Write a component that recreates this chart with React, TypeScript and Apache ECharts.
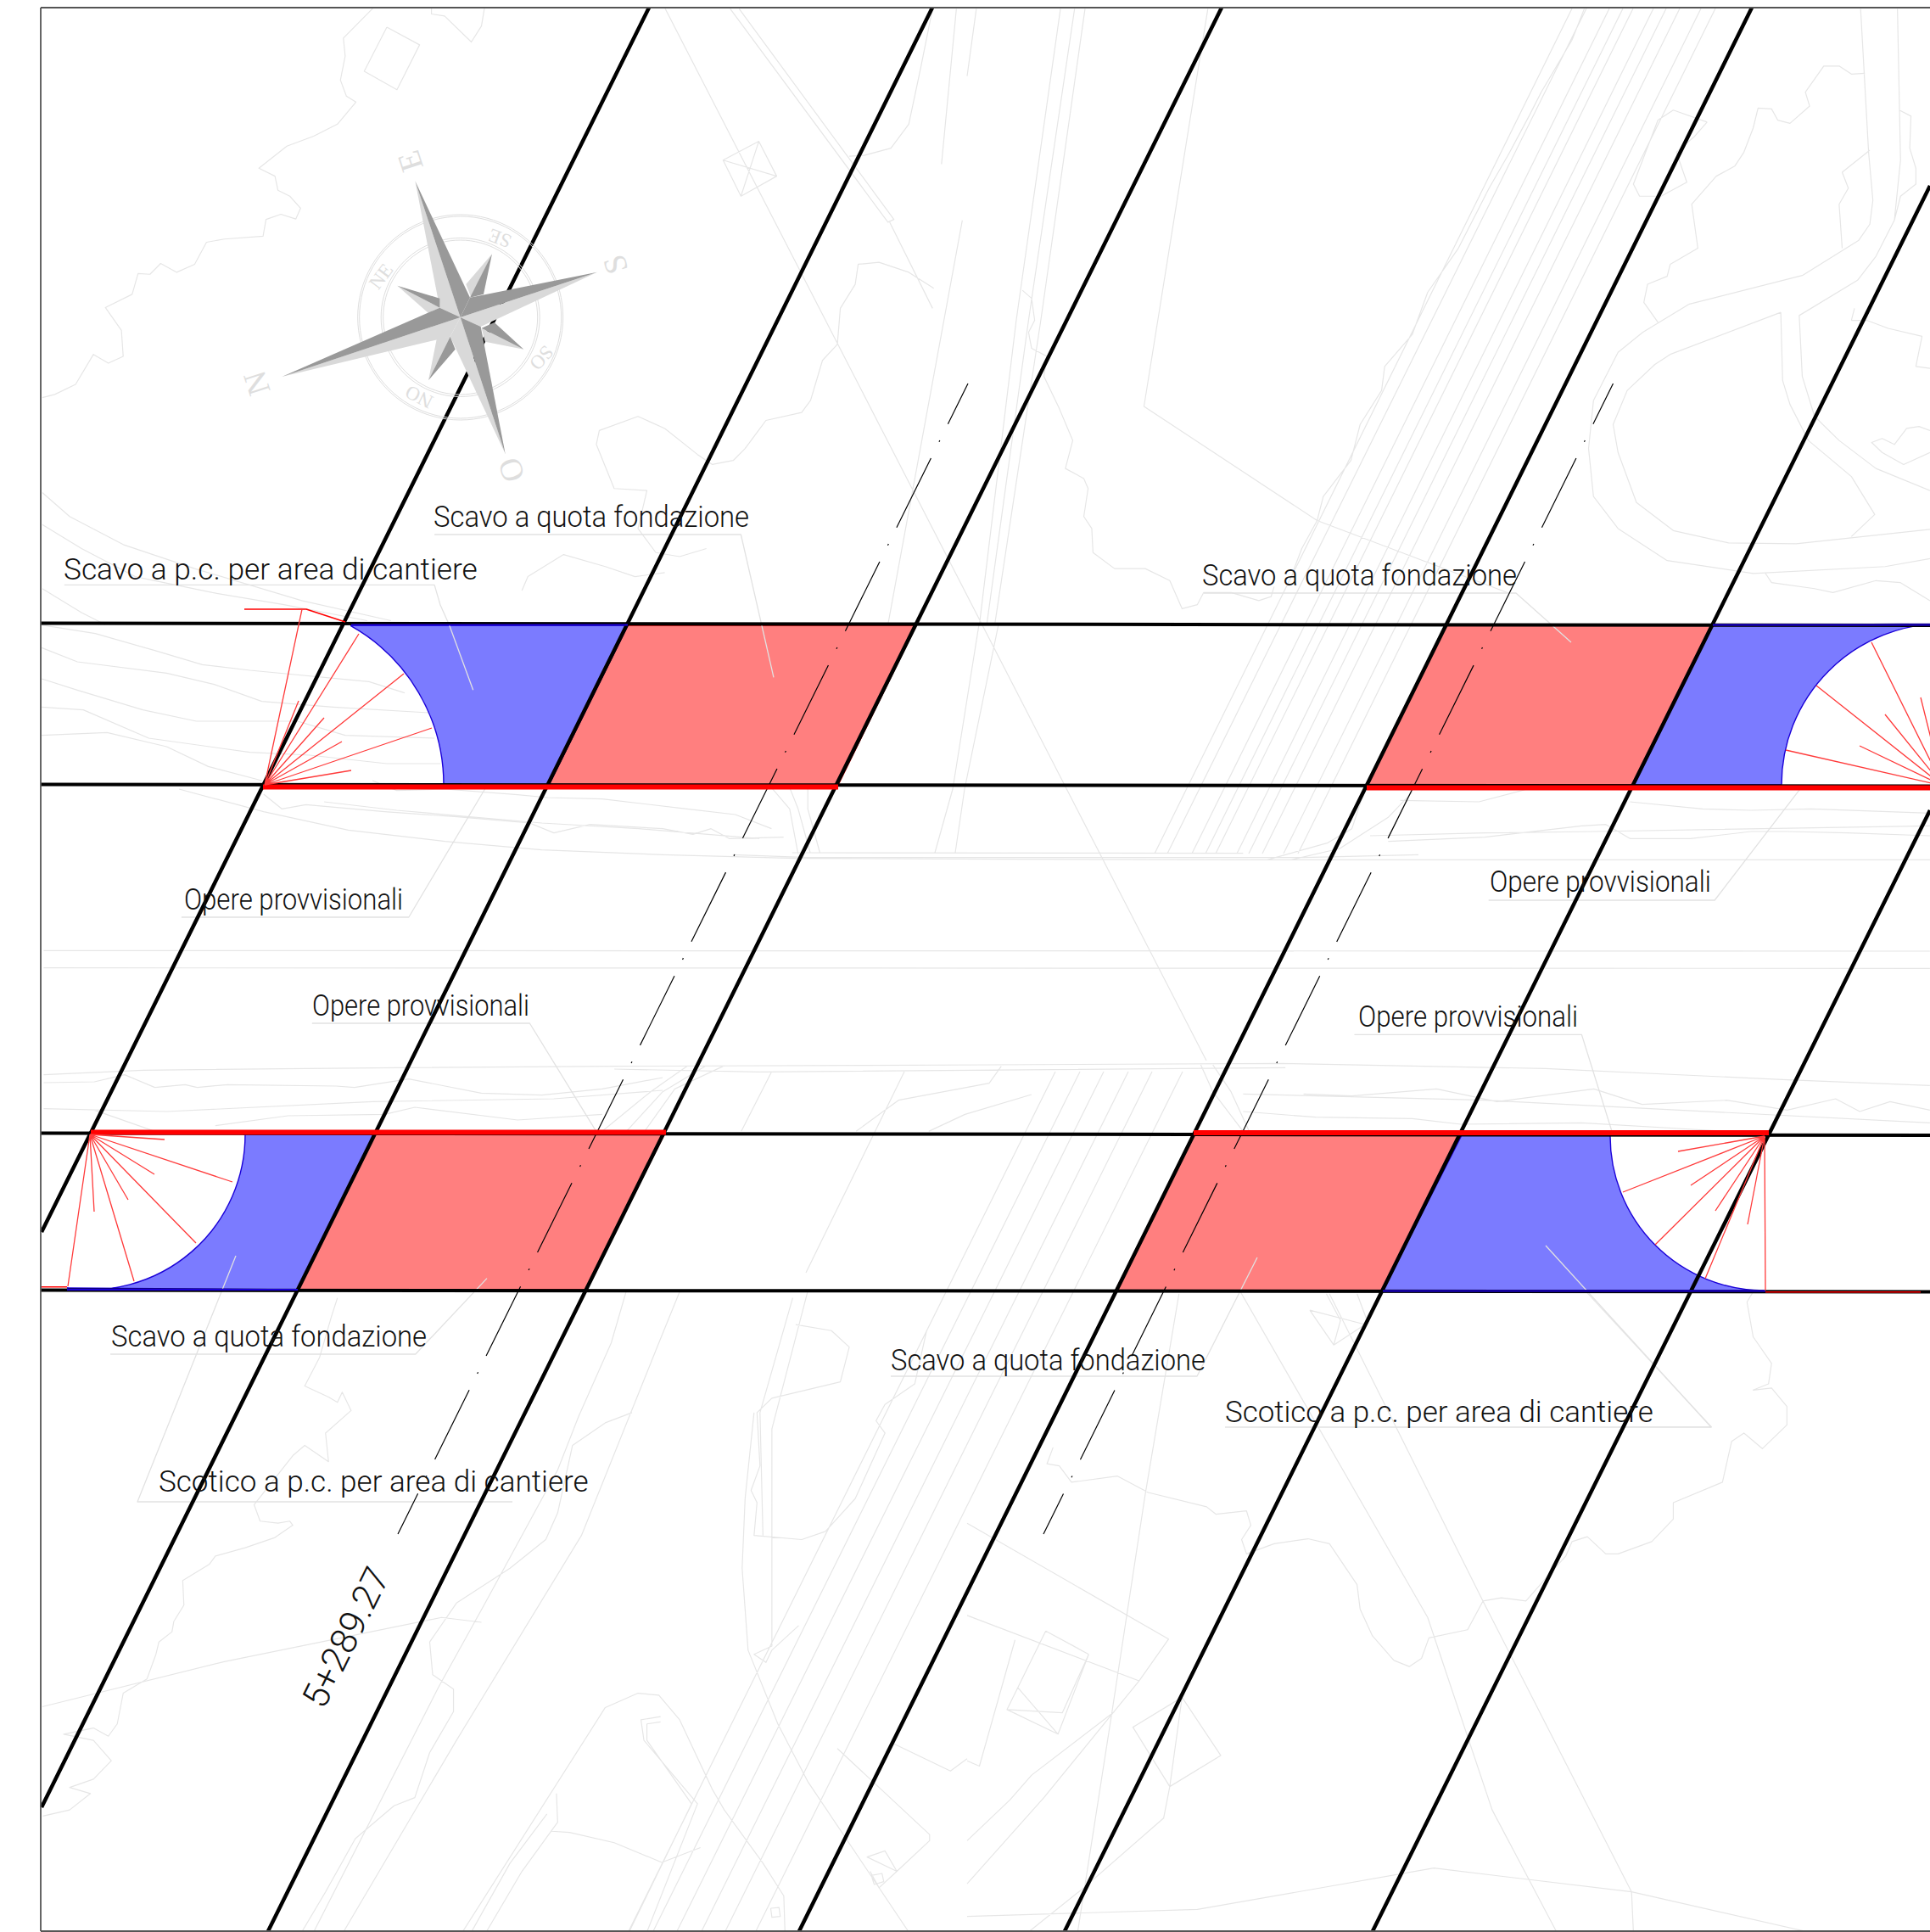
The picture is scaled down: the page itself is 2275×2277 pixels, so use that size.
import React, { useEffect, useRef } from "react";
import * as echarts from "echarts";

type P = number[];
const WIDTH = 2275;
const HEIGHT = 2277;

const crop = (ox: number, oy: number, sx: number, sy: number) => (paths: P[][]) =>
  paths.map((path) => path.map(([x, y]) => [ox + x / sx, oy + y / sy]));

const frame: P[][] = [[[48, 9], [2275, 9]], [[48, 9], [48, 2276]], [[48, 2276], [2275, 2276]]];

const slantedBlack: P[][] = [
  [[765, 9], [49, 1452]],
  [[1099, 9], [49, 2130]],
  [[1440, 9], [316, 2276]],
  [[2065, 9], [942, 2276]],
  [[2275, 219], [1255, 2276]],
  [[2275, 955], [1618, 2276]],
];
const horizontalBlack: P[][] = [
  [[48, 734.5], [2275, 737]],
  [[48, 924.5], [2275, 926.5]],
  [[48, 1335.5], [2275, 1338]],
  [[48, 1520.5], [2275, 1522.5]],
];
const axisLines: P[][] = [
  [[1141, 452], [469, 1808]],
  [[1901.5, 452], [1230, 1808]],
];
const redBands: P[][] = [
  [[310, 927.5], [988, 927.5]],
  [[1611, 928.5], [2275, 928.5]],
  [[107, 1334.5], [785, 1334.5]],
  [[1407, 1335], [2085, 1335]],
];
const blueEdges: P[][] = [
  [[414, 736.5], [740, 736.5]],
  [[2019, 736.5], [2275, 736.5]],
  [[79, 1520], [351, 1520]],
  [[1630, 1521.5], [2081, 1521.5]],
];
const redThin: P[][] = [
  [[48, 1516.7], [79, 1516.7]],
  [[2081, 1522.7], [2264, 1522.7]],
  [[288, 718], [361, 718], [407, 733]],
];
const rayBundles: { anchor: P; ends: P[] }[] = [
  { anchor: [312, 925], ends: [[414, 908], [509, 858], [403, 874], [476, 794], [382, 846], [352, 826], [423, 747], [356, 718]] },
  { anchor: [2290, 926], ends: [[2105, 884], [2192, 879], [2141, 808], [2222, 842], [2206, 757], [2264, 822]] },
  { anchor: [106, 1337], ends: [[194, 1343], [274, 1393], [182, 1384], [231, 1465], [151, 1414], [111, 1428], [158, 1510], [80, 1516]] },
  { anchor: [2080, 1339], ends: [[1978, 1357], [1913, 1405], [1993, 1397], [1951, 1467], [2022, 1427], [2060, 1443], [2010, 1507], [2081, 1521]] },
];

const redFills: P[][] = [
  [[740, 737], [1080, 737], [988, 925], [647, 925]],
  [[1705, 737], [2019, 737], [1926, 925], [1611, 925]],
  [[442, 1337], [783, 1337], [691, 1520], [351, 1520]],
  [[1407, 1338], [1723, 1338], [1630, 1521], [1315, 1521]],
];
const blueFills: { pts: P[]; center: P; ccw: boolean }[] = [
  { pts: [[414, 737], [740, 737], [647, 925], [523, 925]], center: [308, 925], ccw: true },
  { pts: [[2290, 735], [2019, 737], [1926, 925], [2100, 925]], center: [2290, 925], ccw: false },
  { pts: [[287, 1337], [442, 1337], [351, 1520], [79, 1518]], center: [106, 1337], ccw: true },
  { pts: [[1898, 1338], [1723, 1338], [1630, 1521], [2080, 1521]], center: [2080, 1339], ccw: false },
];

const labels: { text: string; x: number; y: number; w: number }[] = [
  { text: "Scavo a quota fondazione", x: 511, y: 609, w: 372 },
  { text: "Scavo a p.c. per area di cantiere", x: 75, y: 671, w: 488 },
  { text: "Scavo a quota fondazione", x: 1417, y: 678, w: 371 },
  { text: "Opere provvisionali", x: 217, y: 1060, w: 258 },
  { text: "Opere provvisionali", x: 1756, y: 1039, w: 261 },
  { text: "Opere provvisionali", x: 368, y: 1185, w: 256 },
  { text: "Opere provvisionali", x: 1601, y: 1198, w: 259 },
  { text: "Scavo a quota fondazione", x: 131, y: 1575.5, w: 372 },
  { text: "Scotico a p.c. per area di cantiere", x: 187, y: 1747, w: 507 },
  { text: "Scavo a quota fondazione", x: 1050, y: 1603, w: 371 },
  { text: "Scotico a p.c. per area di cantiere", x: 1444, y: 1664, w: 505 },
];
const stationLabel = { text: "5+289.27", x: 408, y: 1930, rot: 63.6 };

// gray leaders (over the fills)
const leadersFull: P[][] = [
  [[604, 1770], [162, 1770], [278, 1480]],
  [[1050, 1622], [1411, 1622], [1482, 1482]],
  [[1419, 699], [1787, 699], [1852, 757]],
  [[1444, 1682], [2017, 1682], [1822, 1468]],
];
const leadersA = crop(0, 550, 1.4255, 3)([
  [[108, 418], [730, 418], [740, 490], [755, 560], [795, 790]],
  [[730, 240], [1245, 240], [1300, 745]],
]);
const leadersB = crop(40, 920, 0.7016, 3)([
  [[375, 15], [310, 483], [122, 483]],
  [[1462, 22], [1390, 423], [1203, 423]],
  [[230, 858], [410, 858], [465, 1240]],
  [[1092, 898], [1280, 898], [1305, 1240]],
]);
const leadersC = crop(0, 1280, 1.96, 3)([[[255, 948], [960, 948], [1125, 680]]]);

// terrain, upper left
const terrainTL = crop(40, 0, 1.4255, 2.119)([
  [[570, 20], [520, 95], [523, 140], [515, 200], [525, 240], [541, 255], [510, 310], [470, 340], [425, 365], [378, 420], [405, 440], [410, 475], [430, 490], [448, 520], [440, 547], [415, 535], [390, 548], [385, 590], [320, 597], [290, 605], [270, 660], [240, 680], [213, 658], [195, 685], [175, 683], [165, 735], [120, 768], [147, 825], [150, 890], [125, 907], [100, 885], [70, 960], [35, 985], [14, 993]],
  [[668, 20], [668, 35], [690, 40], [735, 105], [752, 65], [757, 20]],
  [[593, 68], [648, 112], [610, 224], [555, 178], [593, 68]],
  [[1170, 22], [1435, 555], [1445, 548], [1185, 22]],
  [[1438, 555], [1510, 770]],
  [[1158, 400], [1218, 353], [1248, 440], [1188, 490], [1158, 400], [1248, 440]],
  [[1218, 353], [1188, 490]],
  [[1525, 410], [1550, 22]],
  [[1560, 550], [1435, 1560]],
  [[1370, 390], [1395, 388], [1440, 370], [1470, 310], [1490, 170], [1510, 22]],
  [[1512, 720], [1470, 680], [1420, 655], [1385, 660], [1380, 710], [1355, 770], [1350, 860], [1325, 900], [1305, 1000], [1290, 1030], [1230, 1050], [1195, 1120], [1175, 1150], [1140, 1160], [1115, 1135], [1060, 1070], [1015, 1040], [950, 1075], [945, 1110], [975, 1220], [1030, 1225], [1015, 1320], [1045, 1380], [1085, 1390], [1130, 1370]],
  [[820, 1475], [830, 1440], [890, 1385], [960, 1415], [1010, 1440], [1060, 1430]],
  [[14, 1230], [60, 1290], [150, 1360], [270, 1420], [450, 1500], [600, 1550]],
  [[14, 1310], [80, 1370], [170, 1440], [300, 1480], [420, 1510], [560, 1550]],
  [[14, 1470], [80, 1530], [120, 1560]],
]);
// terrain, band around the first contour fans
const terrainBand = crop(0, 550, 1.4255, 3)([
  [[70, 560], [160, 590], [260, 650], [340, 700], [420, 720], [620, 760], [680, 800]],
  [[70, 640], [130, 690], [280, 730], [360, 770], [440, 830], [560, 850], [720, 870]],
  [[70, 750], [130, 790], [240, 860], [330, 900], [500, 900], [580, 950], [730, 960]],
  [[70, 850], [140, 860], [250, 960], [420, 1010], [520, 1020], [650, 1050], [740, 1050]],
  [[70, 950], [180, 940], [280, 990], [350, 1060], [440, 1110]],
]);
// terrain, upper right
const terrainTR = crop(1140, 0, 1.3815, 2.119)([
  [[15, 22], [0, 190]],
  [[152, 22], [80, 800], [20, 1560]],
  [[175, 22], [100, 800], [32, 1560]],
  [[192, 22], [120, 800], [45, 1560]],
  [[392, 22], [288, 1015], [570, 1300], [880, 1480]],
  [[1005, 22], [985, 100], [935, 230], [915, 290], [880, 390], [850, 470], [800, 620], [750, 730], [725, 835], [680, 915], [675, 975], [640, 1060], [625, 1150], [580, 1240], [570, 1300], [545, 1370], [530, 1430]],
  [[1462, 183], [1440, 185], [1420, 165], [1395, 165], [1365, 230], [1372, 265], [1340, 308], [1320, 300], [1310, 272], [1288, 270], [1280, 320], [1265, 380], [1250, 415], [1220, 440], [1180, 510], [1190, 620], [1145, 660], [1140, 690], [1108, 710], [1102, 755], [1125, 805]],
  [[1175, 760], [1360, 688], [1452, 600], [1470, 560], [1475, 500], [1468, 380], [1455, 22]],
  [[1175, 760], [1100, 830], [1060, 880], [1020, 1000], [1012, 1120], [1020, 1240], [1060, 1320], [1140, 1400], [1280, 1432], [1495, 1415], [1568, 1395]],
  [[1515, 22], [1520, 400], [1510, 550], [1480, 640], [1450, 700], [1355, 788], [1360, 940], [1380, 1040], [1420, 1100], [1480, 1170], [1568, 1225]],
  [[1325, 780], [1145, 885], [1120, 910], [1075, 975], [1052, 1060], [1060, 1130], [1090, 1255], [1150, 1325], [1240, 1356], [1350, 1358], [1568, 1322]],
  [[1325, 780], [1328, 950], [1340, 1010], [1370, 1100], [1440, 1190], [1478, 1285], [1440, 1340]],
  [[1470, 375], [1425, 430], [1435, 470], [1420, 510], [1425, 620]],
  [[1518, 275], [1537, 290], [1535, 370], [1545, 420], [1545, 460], [1520, 490], [1510, 550]],
  [[1205, 305], [1150, 275], [1125, 300], [1085, 460], [1095, 490], [1130, 490], [1172, 455], [1155, 380], [1185, 340], [1205, 305]],
  [[1445, 770], [1440, 800], [1465, 800], [1500, 820], [1555, 840], [1545, 915], [1568, 920]],
  [[1568, 1130], [1525, 1160], [1490, 1130], [1473, 1105], [1490, 1095], [1510, 1110], [1530, 1070], [1550, 1065], [1568, 1075]],
  [[1300, 1432], [1310, 1455], [1380, 1470], [1410, 1480], [1480, 1450], [1520, 1455], [1568, 1500]],
  [[90, 725], [105, 745], [110, 800], [100, 830], [105, 870], [130, 890], [125, 940], [150, 1020], [172, 1100], [160, 1170], [190, 1195], [197, 1220], [190, 1290], [203, 1320], [205, 1380], [240, 1420], [290, 1420], [330, 1450], [350, 1520], [375, 1510], [385, 1480], [430, 1480], [475, 1500], [495, 1490], [500, 1465]],
]);
const roadContinuation: P[][] = [
  [[1154, 736], [1123, 930], [1102, 1005]],
  [[1177, 736], [1137, 930], [1126, 1005]],
];
const railUpper: P[][] = [
  [[1853, 10], [1361, 1006]],
  [[1870, 10], [1376, 1006]],
  [[1897, 10], [1405, 1006]],
  [[1913, 10], [1421, 1006]],
  [[1925, 10], [1433, 1006]],
  [[1949, 10], [1458, 1006]],
  [[1964, 10], [1472, 1006]],
  [[1980, 10], [1488, 1006]],
  [[2005, 10], [1513, 1006]],
  [[2022, 10], [1530, 1006]],
];
const railLower: P[][] = [
  [[1066, 1263], [950, 1500]],
  [[1244, 1263], [741, 2276]],
  [[1273, 1263], [770, 2276]],
  [[1301, 1263], [798, 2276]],
  [[1330, 1263], [827, 2276]],
  [[1358, 1263], [855, 2276]],
  [[1394, 1263], [891, 2276]],
];
const longDiagonal: P[][] = [[[784, 10], [1422, 1250]]];
// terrain, middle band
const terrainMid = crop(40, 920, 0.7016, 3)([
  [[8, 601], [1568, 603]],
  [[8, 662], [1568, 664]],
  [[120, 30], [190, 110], [260, 175], [340, 215], [420, 245], [520, 262], [630, 275], [800, 278], [1020, 280], [1568, 280]],
  [[627, 255], [1000, 257]],
  [[578, 262], [640, 272], [1050, 272], [1145, 262]],
  [[190, 48], [205, 100], [225, 85], [290, 110], [350, 128], [410, 150], [430, 185], [460, 155], [520, 170], [545, 190], [560, 170], [575, 205], [620, 200]],
  [[240, 75], [300, 105], [420, 150], [500, 170], [600, 205]],
  [[280, 0], [300, 35], [340, 30], [400, 50], [425, 60], [470, 65], [540, 100], [580, 120], [610, 170]],
  [[610, 25], [625, 100], [632, 260]],
  [[625, 25], [632, 100], [642, 255]],
  [[640, 25], [640, 100], [650, 255]],
  [[1105, 195], [1200, 185], [1290, 180], [1568, 160]],
  [[1130, 70], [1195, 75], [1235, 30]],
  [[1120, 215], [1200, 200], [1280, 160], [1300, 155], [1320, 205], [1370, 205], [1420, 180], [1450, 180], [1500, 185], [1568, 195]],
  [[1320, 75], [1380, 100], [1420, 105], [1470, 100], [1568, 115]],
  [[1020, 280], [1070, 220], [1090, 170], [1100, 40]],
  [[1040, 280], [1080, 240], [1120, 130], [1140, 40]],
  [[8, 1040], [90, 1024], [300, 1015], [480, 1010], [790, 1005], [1030, 1000], [1250, 1018], [1450, 1058], [1568, 1078]],
  [[480, 1020], [600, 1030], [1035, 1015]],
  [[8, 1160], [110, 1170], [280, 1135], [430, 1125], [520, 1095]],
  [[8, 1068], [50, 1065], [75, 1040], [100, 1085], [125, 1075], [135, 1085], [160, 1075], [250, 1080], [265, 1085], [310, 1055], [370, 1105], [420, 1112], [470, 1090], [520, 1050]],
  [[50, 1165], [100, 1240]],
  [[150, 1220], [210, 1185], [290, 1180], [315, 1155], [400, 1200], [470, 1180]],
  [[1000, 1108], [1200, 1130], [1568, 1210]],
  [[1000, 1170], [1060, 1190], [1140, 1195], [1180, 1215], [1280, 1210], [1400, 1240]],
  [[1050, 1108], [1090, 1115], [1160, 1090], [1210, 1135], [1290, 1090], [1330, 1145], [1400, 1130], [1450, 1165], [1490, 1125], [1510, 1170], [1535, 1135], [1568, 1165]],
  [[965, 1005], [975, 1100], [1000, 1240]],
  [[975, 1005], [990, 1100], [1005, 1240]],
  [[800, 1010], [790, 1070], [715, 1130], [680, 1240]],
  [[825, 1110], [770, 1180], [740, 1240]],
  [[540, 1010], [510, 1100], [470, 1240]],
  [[555, 1010], [520, 1100], [490, 1240]],
  [[570, 1010], [530, 1090], [505, 1240]],
  [[610, 1030], [585, 1240]],
]);
// terrain, lower left
const terrainBL = crop(40, 1520, 1.4255, 2.0713)([
  [[510, 20], [500, 65], [480, 165], [455, 235], [495, 262], [510, 275], [518, 250], [533, 295], [490, 350], [495, 420], [455, 380], [435, 405], [370, 525], [380, 565], [410, 570], [430, 565], [435, 575], [405, 605], [355, 630], [305, 650], [295, 670], [250, 710], [252, 770], [235, 810], [232, 835], [210, 860], [205, 890], [190, 950], [150, 985], [140, 1060], [125, 1090], [100, 1070], [50, 1085], [100, 1100], [130, 1150], [100, 1195], [60, 1215], [95, 1230], [60, 1270], [15, 1285]],
  [[14, 1018], [320, 908], [685, 800], [752, 812]],
  [[1005, 300], [960, 325], [905, 380], [880, 545], [860, 610], [800, 680], [710, 765], [665, 860], [670, 940], [705, 975], [705, 1030], [665, 1130], [640, 1240], [605, 1260], [540, 1340], [490, 1470], [450, 1568]],
  [[995, 5], [970, 130], [915, 310], [880, 440], [760, 760], [680, 970], [470, 1568]],
  [[1085, 5], [1050, 130], [920, 600], [710, 1100], [520, 1568]],
  [[960, 1020], [1015, 985], [1050, 990], [1085, 1050], [1140, 1220], [1160, 1270], [1225, 1400], [1260, 1480], [1262, 1568]],
  [[960, 1020], [720, 1568]],
  [[1053, 1042], [1020, 1050], [1025, 1100], [1115, 1255], [1030, 1568]],
  [[1053, 1055], [1030, 1060], [1030, 1100], [1105, 1255], [1000, 1568]],
  [[878, 1230], [880, 1300], [820, 1420], [760, 1568]],
  [[862, 1280], [800, 1400], [735, 1568]],
  [[870, 1322], [900, 1325], [975, 1350], [1055, 1398], [1120, 1362]],
  [[1210, 300], [1195, 510], [1190, 680], [1200, 880], [1250, 1060], [1300, 1200], [1470, 1568]],
  [[1300, 5], [1240, 340], [1240, 870], [1210, 890], [1230, 910], [1240, 880], [1285, 820]],
  [[1275, 20], [1220, 300], [1225, 600]],
  [[1280, 85], [1340, 100], [1370, 140], [1355, 225], [1240, 265], [1215, 300], [1220, 430], [1205, 490], [1215, 520], [1210, 600], [1290, 610], [1330, 590], [1380, 510], [1430, 350], [1415, 320], [1430, 280], [1480, 230], [1500, 100]],
  [[1350, 1120], [1505, 1330], [1505, 1345], [1450, 1420], [1400, 1385], [1430, 1370], [1450, 1420], [1420, 1460], [1405, 1420]],
  [[1407, 1430], [1425, 1425], [1428, 1445], [1412, 1452], [1407, 1430]],
  [[1238, 1510], [1252, 1508], [1254, 1530], [1240, 1532], [1238, 1510]],
  [[1440, 1105], [1540, 1175], [1568, 1145]],
]);
// terrain, lower right
const terrainBR = crop(1140, 1520, 1.3815, 2.0713)([
  [[1005, 0], [1212, 335], [1060, 335]],
  [[0, 570], [328, 853], [280, 955]],
  [[0, 795], [280, 955]],
  [[78, 855], [20, 1163], [0, 1150]],
  [[128, 833], [65, 1025], [148, 1085], [198, 890]],
  [[65, 1025], [155, 1033], [198, 890]],
  [[83, 972], [148, 1085]],
  [[128, 833], [198, 890]],
  [[350, 995], [413, 1137], [330, 1213], [270, 1068], [350, 995]],
  [[350, 995], [330, 1213], [320, 1290], [190, 1460], [100, 1568]],
  [[345, 10], [290, 500], [235, 1040], [180, 1568]],
  [[140, 385], [130, 425], [150, 430], [170, 470], [245, 455], [295, 495], [390, 530], [405, 548], [455, 540], [462, 575], [447, 610], [455, 645], [500, 620], [555, 608], [590, 620], [635, 720], [640, 780], [660, 845], [695, 905], [720, 920], [740, 900], [752, 850], [815, 830], [840, 760], [870, 752], [910, 760], [945, 700], [975, 650], [985, 615], [1010, 603], [1040, 645], [1060, 645], [1115, 615], [1150, 560], [1150, 520], [1230, 470], [1245, 370], [1265, 350], [1295, 388], [1335, 330], [1335, 285], [1310, 240], [1280, 245], [1305, 230], [1310, 180], [1280, 115], [1270, 30], [1280, 5]],
  [[590, 10], [840, 760], [1082, 1470], [1085, 1568]],
  [[445, 5], [750, 800], [855, 1270], [960, 1568]],
  [[0, 1530], [375, 1513], [760, 1412], [1082, 1470], [1370, 1568]],
  [[0, 1345], [70, 1245], [105, 1185], [240, 1030]],
  [[0, 1450], [125, 1240], [280, 955]],
  [[558, 50], [597, 135], [648, 85], [558, 50]],
  [[585, 10], [608, 75], [597, 135]],
  [[635, 10], [650, 70]],
]);

const rose = crop(270, 170, 3, 3);
const roseCenter: P = [818, 612];
const roseDark: P[][] = rose([
  [[930, 388], [852, 542], [900, 530]],
  [[595, 500], [745, 545], [745, 578]],
  [[1042, 725], [938, 630], [893, 650]],
  [[705, 835], [782, 680], [800, 725]],
  [[658, 130], [852, 542], roseCenter],
  [[1302, 452], [852, 542], roseCenter],
  [[977, 1095], [890, 645], roseCenter],
  [[187, 822], [745, 578], roseCenter],
]);
const roseLight: P[][] = rose([
  [[930, 388], [838, 495], [855, 540]],
  [[595, 500], [705, 597], [745, 578]],
  [[1042, 725], [905, 698], [893, 650]],
  [[705, 835], [735, 685], [782, 680]],
  [[658, 130], [745, 578], roseCenter],
  [[1302, 452], [890, 645], roseCenter],
  [[977, 1095], [782, 680], roseCenter],
  [[187, 822], [782, 680], roseCenter],
]);
const roseRings: number[] = [121, 119, 93.5, 91];
const roseLetters: { text: string; at: P; rot: number; size: number }[] = [
  { text: "E", at: [640, 60], rot: 108, size: 38 },
  { text: "S", at: [1365, 425], rot: 108, size: 38 },
  { text: "O", at: [997, 1152], rot: 108, size: 38 },
  { text: "N", at: [97, 845], rot: 108, size: 38 },
  { text: "NE", at: [538, 467], rot: 53, size: 23 },
  { text: "SE", at: [958, 332], rot: 159, size: 23 },
  { text: "SO", at: [1105, 755], rot: 228, size: 23 },
  { text: "NO", at: [672, 893], rot: 153, size: 23 },
];

const COLORS = {
  gray: "#e6e6e6", leader: "#e2e2e2", black: "#000000", frame: "#555555",
  red: "#ff0000", ray: "#ff3a3a", blueFill: "#7b7bff", redFill: "#ff7f7f",
  blueEdge: "#1a00d8", redEdge: "#d80000", roseDark: "#999999", roseLight: "#d9d9d9",
  roseInk: "#dedede",
};

const LABEL_FONT = "Roboto";
const LABEL_SIZE = 35;
const LABEL_WEIGHT = 300;

function measure(text: string, font: string): number {
  const ctx = document.createElement("canvas").getContext("2d")!;
  ctx.font = font;
  return ctx.measureText(text).width;
}

const ArcBlock = echarts.graphic.extendShape({
  type: "arcBlock",
  shape: { points: [] as P[], cx: 0, cy: 0, ccw: false },
  buildPath(ctx: any, s: any) {
    const pts: P[] = s.points;
    if (!pts.length) return;
    ctx.moveTo(pts[0][0], pts[0][1]);
    for (let i = 1; i < pts.length; i++) ctx.lineTo(pts[i][0], pts[i][1]);
    const last = pts[pts.length - 1];
    const r = Math.hypot(last[0] - s.cx, last[1] - s.cy);
    const a0 = Math.atan2(last[1] - s.cy, last[0] - s.cx);
    let a1 = Math.atan2(pts[0][1] - s.cy, pts[0][0] - s.cx);
    if (!s.ccw && a1 < a0) a1 += Math.PI * 2;
    if (s.ccw && a1 > a0) a1 -= Math.PI * 2;
    ctx.arc(s.cx, s.cy, r, a0, a1, s.ccw);
    ctx.closePath();
  },
});
echarts.graphic.registerShape("arcBlock", ArcBlock);

let zCounter = 2;
function lineGroup(paths: P[][], color: string, width: number, extra: any = {}) {
  const data: any[] = [];
  paths.forEach((p, i) => {
    if (i) data.push(["-", "-"]);
    p.forEach((pt) => data.push(pt));
  });
  return {
    type: "line",
    data,
    showSymbol: false,
    symbol: "none",
    silent: true,
    animation: false,
    connectNulls: false,
    z: zCounter++,
    lineStyle: { color, width, cap: "butt", join: "round", ...extra },
  };
}
function customGroup<T>(items: T[], render: (item: T, api: any) => any) {
  return {
    type: "custom",
    silent: true,
    animation: false,
    z: zCounter++,
    clip: true,
    data: items.map((_, i) => [0, 0, i]),
    renderItem: (p: any, api: any) => render(items[p.dataIndex], api),
  };
}
const toPx = (api: any, pts: P[]) => pts.map((pt) => api.coord(pt));

function buildOption() {
  zCounter = 2;
  const rays: P[][] = rayBundles.flatMap((b) => b.ends.map((e) => [b.anchor, e]));
  const labelFont = `${LABEL_WEIGHT} ${LABEL_SIZE}px ${LABEL_FONT}`;
  const series: any[] = [
    lineGroup(
      [...terrainTL, ...terrainBand, ...terrainTR, ...roadContinuation, ...terrainMid, ...terrainBL, ...terrainBR, ...railUpper, ...railLower, ...longDiagonal],
      COLORS.gray, 1.2,
    ),
    customGroup(redFills, (pts, api) => ({
      type: "polygon",
      shape: { points: toPx(api, pts) },
      style: { fill: COLORS.redFill, stroke: COLORS.redEdge, lineWidth: 1.6 },
    })),
    customGroup(blueFills, (b, api) => {
      const c = api.coord(b.center);
      return {
        type: "arcBlock",
        shape: { points: toPx(api, b.pts), cx: c[0], cy: c[1], ccw: b.ccw },
        style: { fill: COLORS.blueFill, stroke: COLORS.blueEdge, lineWidth: 1.4 },
      };
    }),
    lineGroup([...leadersFull, ...leadersA, ...leadersB, ...leadersC], COLORS.leader, 1.3),
    lineGroup(axisLines, COLORS.black, 1.2, { type: [91.2, 21.5, 2, 21.5], dashOffset: 37.7 }),
    lineGroup(horizontalBlack, COLORS.black, 4),
    lineGroup(slantedBlack, COLORS.black, 4.5),
    lineGroup(blueEdges, COLORS.blueEdge, 2),
    lineGroup(redBands, COLORS.red, 6),
    lineGroup(redThin, COLORS.red, 1.6),
    lineGroup(rays, COLORS.ray, 1.3),
    lineGroup(frame, COLORS.frame, 1.8),
    customGroup(roseRings, (r, api) => {
      const c = api.coord(rose([[roseCenter]])[0][0]);
      return {
        type: "circle",
        shape: { cx: c[0], cy: c[1], r: api.size([r, 0])[0] },
        style: { fill: "none", stroke: COLORS.roseInk, lineWidth: 1 },
      };
    }),
    customGroup(roseLetters, (l, api) => {
      const c = api.coord(rose([[l.at]])[0][0]);
      return {
        type: "text",
        x: c[0],
        y: c[1],
        rotation: (l.rot * Math.PI) / 180,
        style: {
          text: l.text, fill: COLORS.roseInk, fontSize: l.size,
          fontFamily: '"Liberation Serif"', align: "center", verticalAlign: "middle",
        },
      };
    }),
    customGroup(roseLight, (pts, api) => ({
      type: "polygon",
      shape: { points: toPx(api, pts) },
      style: { fill: COLORS.roseLight },
    })),
    customGroup(roseDark, (pts, api) => ({
      type: "polygon",
      shape: { points: toPx(api, pts) },
      style: { fill: COLORS.roseDark },
    })),
    customGroup(labels, (l, api) => {
      const c = api.coord([l.x, l.y]);
      return {
        type: "text",
        x: c[0],
        y: c[1],
        scaleX: l.w / measure(l.text, labelFont),
        style: {
          text: l.text, fill: "#111111", fontSize: LABEL_SIZE, fontFamily: LABEL_FONT,
          fontWeight: LABEL_WEIGHT, align: "left", verticalAlign: "middle",
        },
      };
    }),
    customGroup([stationLabel], (l, api) => {
      const c = api.coord([l.x, l.y]);
      return {
        type: "text",
        x: c[0],
        y: c[1],
        rotation: (l.rot * Math.PI) / 180,
        style: {
          text: l.text, fill: "#111111", fontSize: 43, fontFamily: "Roboto",
          fontWeight: 300, align: "center", verticalAlign: "middle",
        },
      };
    }),
  ];
  return {
    animation: false,
    backgroundColor: "#ffffff",
    tooltip: { show: false },
    grid: { left: 0, top: 0, right: 0, bottom: 0, containLabel: false },
    xAxis: { type: "value", min: 0, max: WIDTH, show: false },
    yAxis: { type: "value", min: 0, max: HEIGHT, inverse: true, show: false },
    series,
  };
}

export default function App() {
  const ref = useRef<HTMLDivElement>(null);
  useEffect(() => {
    if (!ref.current) return;
    const chart = echarts.init(ref.current, undefined, { renderer: "svg" });
    chart.setOption(buildOption() as any);
    return () => chart.dispose();
  }, []);
  return (
    <div
      ref={ref}
      style={{ position: "absolute", left: 0, top: 0, width: WIDTH, height: HEIGHT, overflow: "hidden" }}
    />
  );
}
